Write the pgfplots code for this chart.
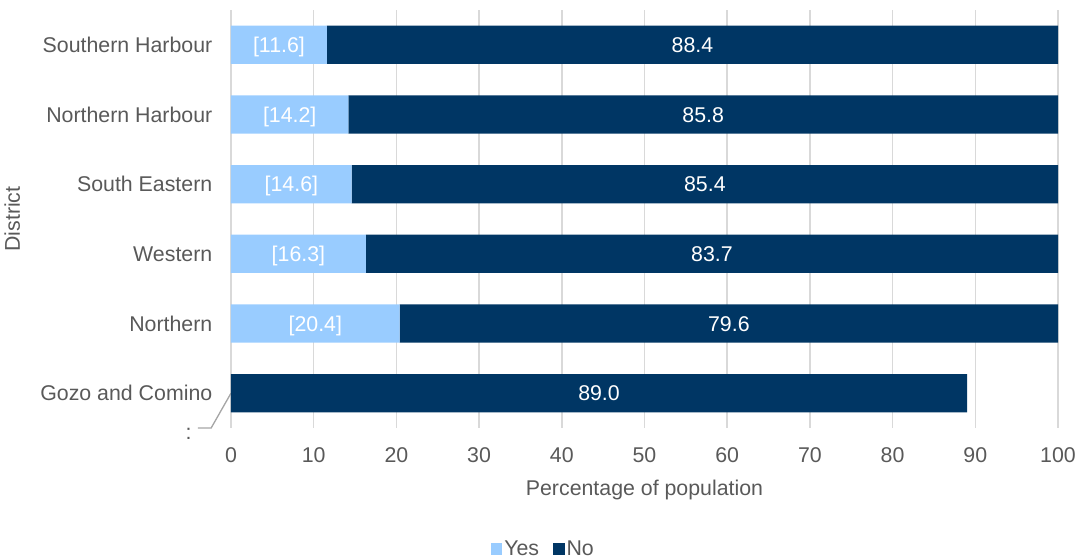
\documentclass[border=0pt]{standalone}
\usepackage{pgfplots}
\pgfplotsset{compat=1.18}
\usepackage{fontspec}
\setmainfont{Liberation Sans}
\definecolor{yescol}{HTML}{99CCFF}
\definecolor{nocol}{HTML}{003664}
\definecolor{txt}{HTML}{595959}
\definecolor{gridc}{HTML}{D9D9D9}
\begin{document}
\begin{tikzpicture}
\pgfplotsset{common/.style={width=620.25pt, height=313.5pt, scale only axis,
  xmin=0, xmax=100, ymin=-0.5, ymax=5.5}}
\begin{axis}[common, name=main,
  xbar stacked, bar width=0.55,
  axis line style={draw=none},
  tick style={draw=none},
  xmajorgrids, grid style={gridc, line width=1.2pt},
  xtick={0,10,...,100},
  ytick={0,...,5},
  yticklabels={Gozo and Comino, Northern, Western, South Eastern, Northern Harbour, Southern Harbour},
  ticklabel style={font=\fontsize{16}{19}\selectfont, text=txt},
  /pgf/number format/assume math mode=true,
  xticklabel style={yshift=-11pt},
  yticklabel style={xshift=-10.5pt},
  xlabel={Percentage of population}, ylabel={District},
  label style={font=\fontsize{16}{19}\selectfont, text=txt},
  xlabel style={at={(axis description cs:0.5,0)}, anchor=center, yshift=-46.5pt},
  ylabel style={at={(axis description cs:-0.2645,0.5)}, anchor=center},
  clip=false,
  legend style={at={(axis description cs:0.3779,-0.2895)}, anchor=center, draw=none,
    legend columns=2, font=\fontsize{16}{19}\selectfont, text=txt,
    /tikz/every even column/.append style={column sep=9.3pt},
    nodes={inner sep=1.5pt}},
]
\addplot[fill=yescol, draw=none, legend image code/.code={\fill[yescol] (0pt,-4.15pt) rectangle (8.3pt,4.15pt);}]
  table[x=v, y=y] {
y v
0 0
1 20.4
2 16.3
3 14.6
4 14.2
5 11.6
};
\addlegendentry{Yes}
\addplot[fill=nocol, draw=none, legend image code/.code={\fill[nocol] (0pt,-4.15pt) rectangle (8.3pt,4.15pt);}]
  table[x=v, y=y] {
y v
0 89.0
1 79.6
2 83.7
3 85.4
4 85.8
5 88.4
};
\addlegendentry{No}
\draw[gray!70, line width=1pt] (axis cs:0,0) -- (axis cs:-2.4,-0.5) -- (axis cs:-4,-0.5);
\node[anchor=east, text=txt, font=\fontsize{16}{19}\selectfont, inner sep=2pt] at (axis cs:-4.4,-0.578) {:};
\end{axis}
\begin{axis}[common, hide axis]
\addplot[only marks, mark=*, mark size=0pt, mark options={draw=none, fill=none},
  nodes near coords, point meta=explicit symbolic,
  every node near coord/.style={anchor=center, text=white, text height=11.5pt, text depth=0pt,
    font=\fontsize{16}{19}\selectfont}]
  table[x=xc, y=y, meta=lab] {
y xc lab
1 10.2 [20.4]
2 8.15 [16.3]
3 7.3 [14.6]
4 7.1 [14.2]
5 5.8 [11.6]
0 44.5 89.0
1 60.2 79.6
2 58.15 83.7
3 57.3 85.4
4 57.1 85.8
5 55.8 88.4
};
\end{axis}
\pgfresetboundingbox
\path (main.south west) ++(-173.25pt,-99pt) rectangle ++(811.5pt,420pt);
\end{tikzpicture}
\end{document}
